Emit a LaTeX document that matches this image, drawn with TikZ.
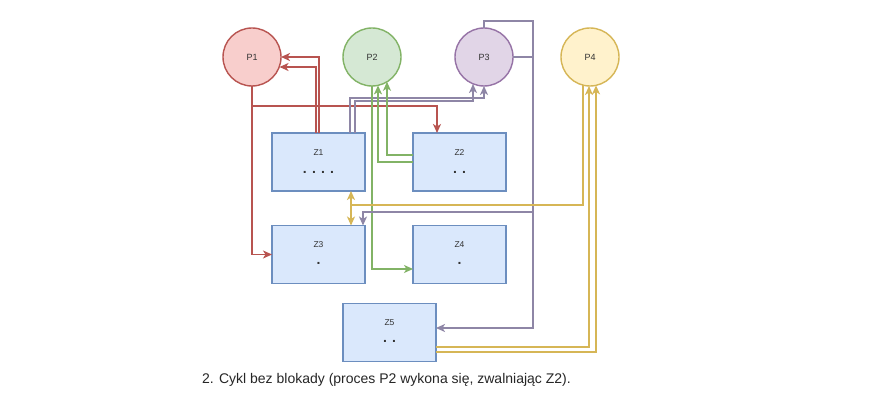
\documentclass[tikz,border=0pt]{standalone}
\usepackage{fontspec}
\setmainfont{Liberation Sans}
\usetikzlibrary{arrows.meta,calc}
\definecolor{redS}{HTML}{B85450}
\definecolor{redF}{HTML}{F8CECC}
\definecolor{greS}{HTML}{82B366}
\definecolor{greF}{HTML}{D5E8D4}
\definecolor{purS}{HTML}{9673A6}
\definecolor{purF}{HTML}{E1D5E7}
\definecolor{purL}{HTML}{8E86A6}
\definecolor{yelS}{HTML}{D6B656}
\definecolor{yelF}{HTML}{FFF2CC}
\definecolor{boxS}{HTML}{6C8EBF}
\definecolor{boxF}{HTML}{DAE8FC}
\definecolor{txt}{HTML}{333333}
\tikzset{
  proc/.style={circle, line width=1.4pt, minimum size=58pt, inner sep=0pt, outer sep=0pt, text=txt, font=\fontsize{9}{10}\selectfont},
  res/.style={rectangle, draw=boxS, fill=boxF, line width=1.5pt, minimum width=93pt, minimum height=58pt, inner sep=0pt, outer sep=0pt},
  lbl/.style={inner sep=0pt, text=txt, font=\fontsize{8.5}{10}\selectfont},
  dotl/.style={anchor=base, inner sep=0pt, text=txt, font=\fontsize{14}{14}\selectfont\bfseries},
  conn/.style={line width=1.5pt, -{Stealth[length=9pt,width=8pt,inset=2.5pt]}},
}
\begin{document}
\begin{tikzpicture}[x=1pt,y=-1pt]
\fill[white] (0,0) rectangle (890,411);
\useasboundingbox (0,0) rectangle (890,411);

% processes
\node[proc, draw=redS, fill=redF] (P1) at (252,57) {P1};
\node[proc, draw=greS, fill=greF] (P2) at (372,57) {P2};
\node[proc, draw=purS, fill=purF] (P3) at (484,57) {P3};
\node[proc, draw=yelS, fill=yelF] (P4) at (590,57) {P4};

% resources
\node[res] (Z1) at (318.5,162) {};
\node[res] (Z2) at (459.5,162) {};
\node[res] (Z3) at (318.5,254.5) {};
\node[res] (Z4) at (459.5,254.5) {};
\node[res] (Z5) at (389.5,332.5) {};

\node[lbl] (Z1l) at ($(Z1.north)+(0,20)$) {Z1};
\node[dotl] (Z1d) at ($(Z1.north)+(0,40.5)$) {.\hspace{5.2pt}.\hspace{5.2pt}.\hspace{5.2pt}.};
\node[lbl] (Z2l) at ($(Z2.north)+(0,20)$) {Z2};
\node[dotl] (Z2d) at ($(Z2.north)+(0,40.5)$) {.\hspace{5.2pt}.};
\node[lbl] (Z3l) at ($(Z3.north)+(0,19)$) {Z3};
\node[dotl] (Z3d) at ($(Z3.north)+(0,39.5)$) {.};
\node[lbl] (Z4l) at ($(Z4.north)+(0,19)$) {Z4};
\node[dotl] (Z4d) at ($(Z4.north)+(0,39.5)$) {.};
\node[lbl] (Z5l) at ($(Z5.north)+(0,19)$) {Z5};
\node[dotl] (Z5d) at ($(Z5.north)+(0,38.5)$) {.\hspace{5.2pt}.};

% red (P1)
\draw[conn, redS] (P1.south) |- (Z3.west);
\draw[conn, redS] (P1.south) -- ++(0,20) -| ([xshift=24pt]Z2.north west);
\draw[conn, redS] ([xshift=47pt]Z1.north west) |- (P1.east);
\draw[conn, redS] ([xshift=44pt]Z1.north west) |- ($(P1.center)+(27.5,10)$);

% purple (Z1 -> P3)
\draw[conn, purL] ([xshift=78pt]Z1.north west) -- ++(0,-35) -| (P3.south);
\draw[conn, purL] ([xshift=83pt]Z1.north west) -- ++(0,-32) -| ($(P3.center)+(-11,27)$);

% green (P2)
\draw[conn, greS] (Z2.west) -| ($(P2.center)+(6,28.4)$);
\draw[conn, greS] ([yshift=7pt]Z2.west) -| ($(P2.center)+(15,24.8)$);
\draw[conn, greS] (P2.south) |- ([yshift=-14.5pt]Z4.west);

% purple (P3 -> Z3, Z5)
\coordinate (rt) at ($(P3.east)+(20,0)$);
\draw[conn, purL] (P3.east) -- (rt) -- ++(0,155) -| ([xshift=-2pt]Z3.north east);
\draw[conn, purL] (P3.north) -- ++(0,-7) -| ($(rt)+(0,271)$) -- ([yshift=4.5pt]Z5.east);

% yellow (P4)
\coordinate (yj) at ($(Z1.south west)+(79,14)$);
\draw[conn, yelS] ($(P4.center)+(-7,28.1)$) |- (yj) -- (yj |- Z1.south);
\draw[conn, yelS] (yj) -- (yj |- Z3.north);
\draw[conn, yelS] ([yshift=-14.5pt]Z5.east) -| ($(P4.center)+(-1,29)$);
\draw[conn, yelS] ([yshift=-19.5pt]Z5.east) -| ($(P4.center)+(6,28.4)$);

% caption
\node[anchor=west, inner sep=0pt, text=black!85, font=\fontsize{14}{16}\selectfont] (cap) at (202,380) {2. Cykl bez blokady (proces P2 wykona się, zwalniając Z2).};
\end{tikzpicture}
\end{document}
